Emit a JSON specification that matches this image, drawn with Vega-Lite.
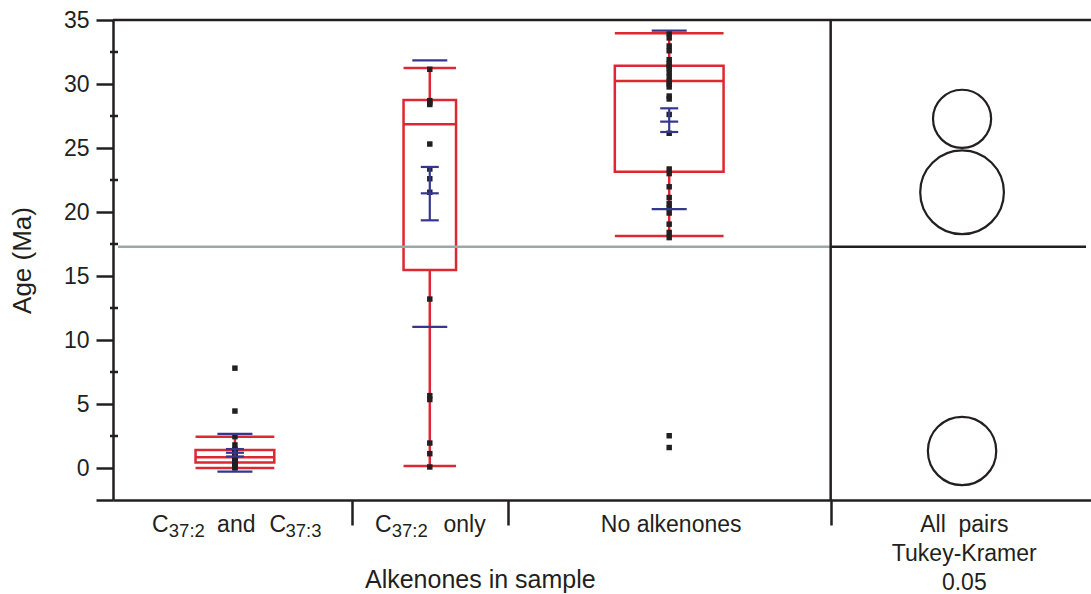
{
  "$schema": "https://vega.github.io/schema/vega-lite/v6.json",
  "usermeta": {"embedOptions": {"actions": false}},
  "width": 978,
  "height": 480,
  "autosize": {"type": "none"},
  "padding": {"left": 113, "top": 20, "right": 0, "bottom": 94},
  "background": "white",
  "config": {"view": {"stroke": null}, "font": "Liberation Sans", "axis": {"grid": false}},
  "datasets": {
    "groups": [
      {"group": "C37:2 and C37:3", "start": 0, "end": 21, "mid": 10.5, "n": 21, "whisk_lo": 0.0, "q1": 0.42, "median": 0.84, "q3": 1.41, "whisk_hi": 2.45, "mean": 1.19, "se_lo": 0.9, "se_hi": 1.48, "sd_lo": -0.29, "sd_hi": 2.66},
      {"group": "C37:2 only", "start": 21, "end": 35, "mid": 28, "n": 14, "whisk_lo": 0.16, "q1": 15.47, "median": 26.85, "q3": 28.75, "whisk_hi": 31.25, "mean": 21.46, "se_lo": 19.35, "se_hi": 23.52, "sd_lo": 11.02, "sd_hi": 31.85},
      {"group": "No alkenones", "start": 35, "end": 64, "mid": 49.5, "n": 29, "whisk_lo": 18.13, "q1": 23.15, "median": 30.23, "q3": 31.43, "whisk_hi": 33.96, "mean": 27.06, "se_lo": 26.25, "se_hi": 28.1, "sd_lo": 20.23, "sd_hi": 34.17}
    ],
    "points": [
      {"group": "C37:2 and C37:3", "age": 0.0}, {"group": "C37:2 and C37:3", "age": 0.05}, {"group": "C37:2 and C37:3", "age": 0.15},
      {"group": "C37:2 and C37:3", "age": 0.3}, {"group": "C37:2 and C37:3", "age": 0.4}, {"group": "C37:2 and C37:3", "age": 0.45},
      {"group": "C37:2 and C37:3", "age": 0.5}, {"group": "C37:2 and C37:3", "age": 0.6}, {"group": "C37:2 and C37:3", "age": 0.7},
      {"group": "C37:2 and C37:3", "age": 0.8}, {"group": "C37:2 and C37:3", "age": 0.84}, {"group": "C37:2 and C37:3", "age": 0.9},
      {"group": "C37:2 and C37:3", "age": 1.0}, {"group": "C37:2 and C37:3", "age": 1.1}, {"group": "C37:2 and C37:3", "age": 1.3},
      {"group": "C37:2 and C37:3", "age": 1.4}, {"group": "C37:2 and C37:3", "age": 1.45}, {"group": "C37:2 and C37:3", "age": 1.8},
      {"group": "C37:2 and C37:3", "age": 2.45}, {"group": "C37:2 and C37:3", "age": 4.45}, {"group": "C37:2 and C37:3", "age": 7.8},
      {"group": "C37:2 only", "age": 31.15}, {"group": "C37:2 only", "age": 28.7}, {"group": "C37:2 only", "age": 28.55},
      {"group": "C37:2 only", "age": 28.4}, {"group": "C37:2 only", "age": 25.31}, {"group": "C37:2 only", "age": 23.36},
      {"group": "C37:2 only", "age": 22.6}, {"group": "C37:2 only", "age": 21.54}, {"group": "C37:2 only", "age": 13.2},
      {"group": "C37:2 only", "age": 5.65}, {"group": "C37:2 only", "age": 5.35}, {"group": "C37:2 only", "age": 1.95},
      {"group": "C37:2 only", "age": 1.12}, {"group": "C37:2 only", "age": 0.08},
      {"group": "No alkenones", "age": 33.95}, {"group": "No alkenones", "age": 33.6}, {"group": "No alkenones", "age": 32.97},
      {"group": "No alkenones", "age": 32.6}, {"group": "No alkenones", "age": 31.9}, {"group": "No alkenones", "age": 31.6},
      {"group": "No alkenones", "age": 31.4}, {"group": "No alkenones", "age": 31.25}, {"group": "No alkenones", "age": 30.9},
      {"group": "No alkenones", "age": 30.55}, {"group": "No alkenones", "age": 30.2}, {"group": "No alkenones", "age": 30.0},
      {"group": "No alkenones", "age": 29.77}, {"group": "No alkenones", "age": 29.06}, {"group": "No alkenones", "age": 28.83},
      {"group": "No alkenones", "age": 27.62}, {"group": "No alkenones", "age": 26.15}, {"group": "No alkenones", "age": 23.36},
      {"group": "No alkenones", "age": 23.0}, {"group": "No alkenones", "age": 21.97}, {"group": "No alkenones", "age": 21.13},
      {"group": "No alkenones", "age": 20.66}, {"group": "No alkenones", "age": 20.31}, {"group": "No alkenones", "age": 19.92},
      {"group": "No alkenones", "age": 19.05}, {"group": "No alkenones", "age": 18.4}, {"group": "No alkenones", "age": 18.0},
      {"group": "No alkenones", "age": 2.52}, {"group": "No alkenones", "age": 1.6}
    ],
    "circles": [
      {"group": "C37:2 and C37:3", "mean": 1.33, "radius": 2.67},
      {"group": "C37:2 only", "mean": 21.54, "radius": 3.27},
      {"group": "No alkenones", "mean": 27.28, "radius": 2.27}
    ],
    "minorTicks": [
      {"v": 2.5}, {"v": 7.5}, {"v": 12.5}, {"v": 17.5}, {"v": 22.5}, {"v": 27.5}, {"v": 32.5}
    ]
  },
  "layer": [
    {
      "data": {"name": "groups"},
      "mark": {"type": "bar", "fillOpacity": 0, "stroke": "#dc2832", "strokeWidth": 2.5},
      "encoding": {
        "x": {"field": "mid", "type": "quantitative", "scale": {"domain": [0, 86.93], "nice": false, "zero": false},
          "axis": {"values": [21, 35, 64], "labels": false, "title": null, "tickSize": 25, "tickWidth": 2.5, "tickColor": "#231f20", "domainColor": "#231f20", "domainWidth": 2.5, "grid": false}},
        "y": {"field": "q1", "type": "quantitative", "scale": {"domain": [-2.5, 35], "nice": false, "zero": false},
          "axis": {"values": [-2.5, 0, 5, 10, 15, 20, 25, 30, 35], "format": "d",
            "labelExpr": "datum.value >= 0 ? datum.label : ''",
            "tickSize": 17, "tickWidth": 2.5, "tickColor": "#231f20", "domainColor": "#231f20", "domainWidth": 2.5,
            "labelFont": "Liberation Sans", "labelFontSize": 23, "labelColor": "#231f20", "labelPadding": 7,
            "labelOverlap": false, "labelFlush": false, "labelBound": false,
            "title": "Age (Ma)", "titleFont": "Liberation Sans", "titleFontSize": 26, "titleFontWeight": "normal", "titleColor": "#231f20", "titlePadding": 28, "grid": false}},
        "y2": {"field": "q3"},
        "size": {"field": "n", "type": "quantitative", "scale": {"domain": [0, 64], "range": [0, 240], "zero": true}, "legend": null}
      }
    },
    {
      "data": {"name": "minorTicks"},
      "mark": {"type": "rule", "color": "#231f20", "strokeWidth": 2.5},
      "encoding": {
        "x": {"datum": -0.72, "type": "quantitative"},
        "x2": {"datum": 0},
        "y": {"field": "v", "type": "quantitative"}
      }
    },
    {
      "data": {"values": [{}]},
      "mark": {"type": "rule", "color": "#9ea7a7", "strokeWidth": 2.5},
      "encoding": {
        "x": {"datum": 0, "type": "quantitative"},
        "x2": {"datum": 64},
        "y": {"datum": 17.28, "type": "quantitative"}
      }
    },
    {
      "data": {"values": [{}]},
      "mark": {"type": "rule", "color": "#231f20", "strokeWidth": 2.5},
      "encoding": {
        "x": {"datum": 64, "type": "quantitative"},
        "x2": {"datum": 86.93},
        "y": {"datum": 17.28, "type": "quantitative"}
      }
    },
    {
      "data": {"values": [{}]},
      "mark": {"type": "rule", "color": "#231f20", "strokeWidth": 2.5},
      "encoding": {"y": {"datum": 35, "type": "quantitative"}}
    },
    {
      "data": {"values": [{}]},
      "mark": {"type": "rule", "color": "#231f20", "strokeWidth": 2.5},
      "encoding": {"x": {"datum": 64, "type": "quantitative"}}
    },
    {
      "data": {"name": "groups"},
      "mark": {"type": "rule", "color": "#dc2832", "strokeWidth": 2.5},
      "encoding": {
        "x": {"field": "mid", "type": "quantitative"},
        "y": {"field": "whisk_lo", "type": "quantitative"},
        "y2": {"field": "q1"}
      }
    },
    {
      "data": {"name": "groups"},
      "mark": {"type": "rule", "color": "#dc2832", "strokeWidth": 2.5},
      "encoding": {
        "x": {"field": "mid", "type": "quantitative"},
        "y": {"field": "q3", "type": "quantitative"},
        "y2": {"field": "whisk_hi"}
      }
    },
    {
      "data": {"name": "groups"},
      "transform": [{"fold": ["whisk_lo", "median", "whisk_hi"], "as": ["stat", "val"]}],
      "mark": {"type": "tick", "orient": "horizontal", "color": "#dc2832", "thickness": 2.5, "opacity": 1},
      "encoding": {
        "x": {"field": "mid", "type": "quantitative"},
        "y": {"field": "val", "type": "quantitative"},
        "size": {"field": "n", "type": "quantitative", "scale": {"domain": [0, 64], "range": [0, 240], "zero": true}, "legend": null}
      }
    },
    {
      "data": {"name": "points"},
      "transform": [{"lookup": "group", "from": {"data": {"name": "groups"}, "key": "group", "fields": ["mid"]}}],
      "mark": {"type": "point", "shape": "square", "filled": true, "size": 30, "color": "#231f20", "opacity": 1},
      "encoding": {
        "x": {"field": "mid", "type": "quantitative"},
        "y": {"field": "age", "type": "quantitative"}
      }
    },
    {
      "data": {"name": "groups"},
      "mark": {"type": "rule", "color": "#35378c", "strokeWidth": 2.2},
      "encoding": {
        "x": {"field": "mid", "type": "quantitative"},
        "y": {"field": "se_lo", "type": "quantitative"},
        "y2": {"field": "se_hi"}
      }
    },
    {
      "data": {"name": "groups"},
      "transform": [{"fold": ["se_lo", "mean", "se_hi"], "as": ["stat", "val"]}],
      "mark": {"type": "tick", "orient": "horizontal", "color": "#35378c", "thickness": 2.2, "size": 18, "opacity": 1},
      "encoding": {
        "x": {"field": "mid", "type": "quantitative"},
        "y": {"field": "val", "type": "quantitative"}
      }
    },
    {
      "data": {"name": "groups"},
      "transform": [{"fold": ["sd_lo", "sd_hi"], "as": ["stat", "val"]}],
      "mark": {"type": "tick", "orient": "horizontal", "color": "#35378c", "thickness": 2.2, "size": 35, "opacity": 1},
      "encoding": {
        "x": {"field": "mid", "type": "quantitative"},
        "y": {"field": "val", "type": "quantitative"}
      }
    },
    {
      "data": {"name": "circles"},
      "mark": {"type": "point", "shape": "circle", "filled": false, "stroke": "#231f20", "strokeWidth": 2.2, "opacity": 1},
      "encoding": {
        "x": {"datum": 75.8, "type": "quantitative"},
        "y": {"field": "mean", "type": "quantitative"},
        "size": {"field": "radius", "type": "quantitative", "scale": {"type": "pow", "exponent": 2, "domain": [0, 1], "range": [0, 655.36], "zero": true}, "legend": null}
      }
    },
    {
      "data": {"values": [{"t": "C"}]},
      "mark": {"type": "text", "align": "left", "baseline": "alphabetic", "dx": -82.8, "dy": 32, "fontSize": 23, "color": "#231f20"},
      "encoding": {"x": {"datum": 10.5, "type": "quantitative"}, "y": {"datum": -2.5, "type": "quantitative"}, "text": {"field": "t"}}
    },
    {
      "data": {"values": [{"t": "37:2"}]},
      "mark": {"type": "text", "align": "left", "baseline": "alphabetic", "dx": -66.1, "dy": 37, "fontSize": 18.5, "color": "#231f20"},
      "encoding": {"x": {"datum": 10.5, "type": "quantitative"}, "y": {"datum": -2.5, "type": "quantitative"}, "text": {"field": "t"}}
    },
    {
      "data": {"values": [{"t": "and"}]},
      "mark": {"type": "text", "align": "left", "baseline": "alphabetic", "dx": -17.8, "dy": 32, "fontSize": 23, "color": "#231f20"},
      "encoding": {"x": {"datum": 10.5, "type": "quantitative"}, "y": {"datum": -2.5, "type": "quantitative"}, "text": {"field": "t"}}
    },
    {
      "data": {"values": [{"t": "C"}]},
      "mark": {"type": "text", "align": "left", "baseline": "alphabetic", "dx": 34.6, "dy": 32, "fontSize": 23, "color": "#231f20"},
      "encoding": {"x": {"datum": 10.5, "type": "quantitative"}, "y": {"datum": -2.5, "type": "quantitative"}, "text": {"field": "t"}}
    },
    {
      "data": {"values": [{"t": "37:3"}]},
      "mark": {"type": "text", "align": "left", "baseline": "alphabetic", "dx": 50.6, "dy": 37, "fontSize": 18.5, "color": "#231f20"},
      "encoding": {"x": {"datum": 10.5, "type": "quantitative"}, "y": {"datum": -2.5, "type": "quantitative"}, "text": {"field": "t"}}
    },
    {
      "data": {"values": [{"t": "C"}]},
      "mark": {"type": "text", "align": "left", "baseline": "alphabetic", "dx": -54.7, "dy": 32, "fontSize": 23, "color": "#231f20"},
      "encoding": {"x": {"datum": 28, "type": "quantitative"}, "y": {"datum": -2.5, "type": "quantitative"}, "text": {"field": "t"}}
    },
    {
      "data": {"values": [{"t": "37:2"}]},
      "mark": {"type": "text", "align": "left", "baseline": "alphabetic", "dx": -38, "dy": 37, "fontSize": 18.5, "color": "#231f20"},
      "encoding": {"x": {"datum": 28, "type": "quantitative"}, "y": {"datum": -2.5, "type": "quantitative"}, "text": {"field": "t"}}
    },
    {
      "data": {"values": [{"t": "only"}]},
      "mark": {"type": "text", "align": "left", "baseline": "alphabetic", "dx": 13.7, "dy": 32, "fontSize": 23, "color": "#231f20"},
      "encoding": {"x": {"datum": 28, "type": "quantitative"}, "y": {"datum": -2.5, "type": "quantitative"}, "text": {"field": "t"}}
    },
    {
      "data": {"values": [{"t": "No alkenones"}]},
      "mark": {"type": "text", "align": "center", "baseline": "alphabetic", "dx": 2, "dy": 32, "fontSize": 23, "color": "#231f20"},
      "encoding": {"x": {"datum": 49.5, "type": "quantitative"}, "y": {"datum": -2.5, "type": "quantitative"}, "text": {"field": "t"}}
    },
    {
      "data": {"values": [{"t": "Alkenones in sample"}]},
      "mark": {"type": "text", "align": "center", "baseline": "alphabetic", "dx": 6, "dy": 88, "fontSize": 25, "color": "#231f20"},
      "encoding": {"x": {"datum": 32, "type": "quantitative"}, "y": {"datum": -2.5, "type": "quantitative"}, "text": {"field": "t"}}
    },
    {
      "data": {"values": [{}]},
      "mark": {"type": "text", "align": "center", "baseline": "alphabetic", "dy": 32, "fontSize": 23, "lineHeight": 29, "color": "#231f20"},
      "encoding": {"x": {"datum": 76, "type": "quantitative"}, "y": {"datum": -2.5, "type": "quantitative"}, "text": {"value": ["All\u00a0 pairs", "Tukey-Kramer", "0.05"]}}
    }
  ],
  "resolve": {"scale": {"size": "independent"}}
}
